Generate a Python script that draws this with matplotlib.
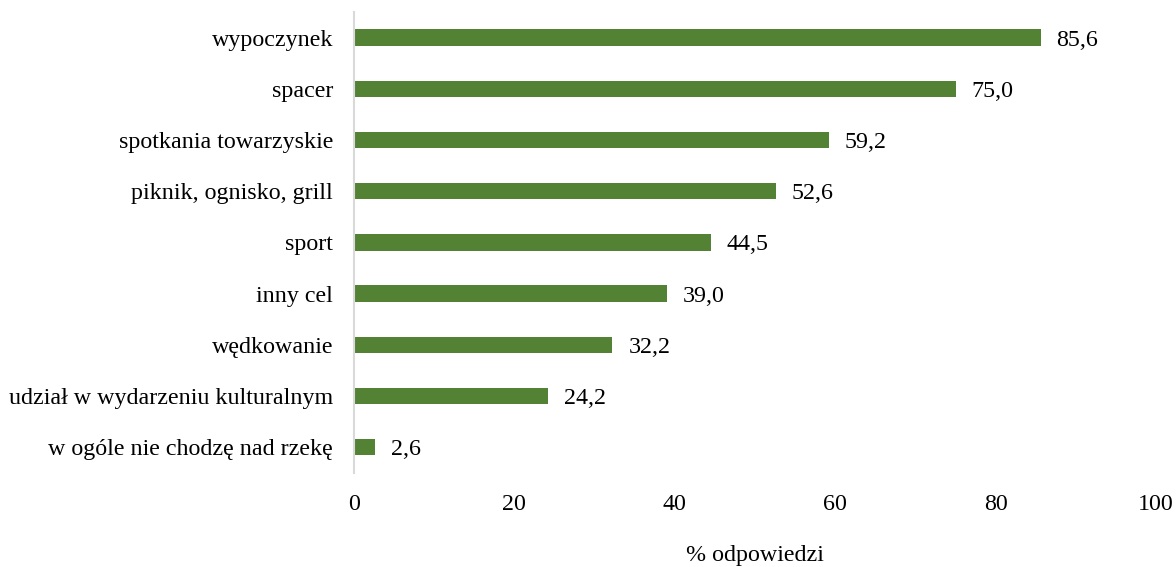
import matplotlib
matplotlib.use("Agg")
import matplotlib.pyplot as plt

# Categories (top to bottom) and values in percent
categories = [
    "wypoczynek",
    "spacer",
    "spotkania towarzyskie",
    "piknik, ognisko, grill",
    "sport",
    "inny cel",
    "wędkowanie",
    "udział w wydarzeniu kulturalnym",
    "w ogóle nie chodzę nad rzekę",
]
values = [85.6, 75.0, 59.2, 52.6, 44.5, 39.0, 32.2, 24.2, 2.6]
xticks = [0, 20, 40, 60, 80, 100]

plt.rcParams["font.family"] = ["Liberation Serif", "DejaVu Serif"]
FS = 17.3

fig = plt.figure(figsize=(11.76, 5.67), dpi=100)
ax = fig.add_axes([0.301, 0.166, 0.682, 0.813])

pos = list(range(len(categories)))[::-1]
ax.barh(pos, values, height=0.32, color="#548235")

# Value labels next to bars
for p, v in zip(pos, values):
    ax.text(v + 2.0, p, f"{v:.1f}".replace(".", ","), va="center_baseline",
            ha="left", fontsize=FS)

ax.set_xlim(0, 100)
ax.set_ylim(-0.5, len(categories) - 0.5)
ax.set_yticks(pos)
ax.set_yticklabels(categories, fontsize=FS)
ax.set_xticks(xticks)
ax.set_xticklabels([str(t) for t in xticks], fontsize=FS)
ax.tick_params(length=0)
ax.tick_params(axis="x", pad=15)
ax.tick_params(axis="y", pad=15)

for side in ["top", "right", "bottom"]:
    ax.spines[side].set_visible(False)
ax.spines["left"].set_color("#d9d9d9")
ax.spines["left"].set_linewidth(1.5)

ax.set_xlabel("% odpowiedzi", fontsize=FS, labelpad=22)

fig.savefig("out.png", dpi=100)
plt.close(fig)
